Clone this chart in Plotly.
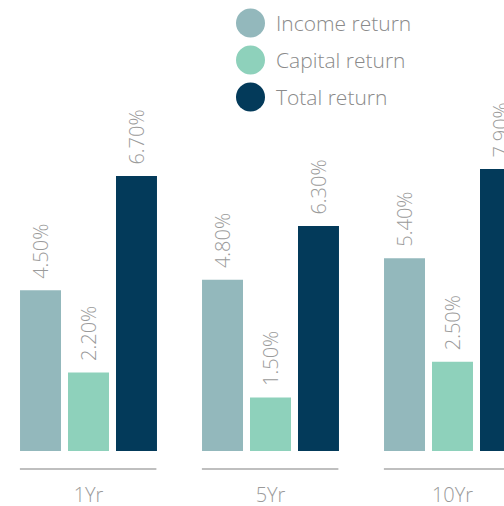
import plotly.graph_objects as go

categories = ["1Yr", "5Yr", "10Yr"]
series_names = ["Income return", "Capital return", "Total return"]
income = [4.5, 4.8, 5.4]
capital = [2.2, 1.5, 2.5]
total = [7.7, 6.3, 7.9]
income_labels = ["4.50%", "4.80%", "5.40%"]
capital_labels = ["2.20%", "1.50%", "2.50%"]
total_labels = ["6.70%", "6.30%", "7.90%"]
colors = ["#93b8bc", "#8ed1bb", "#033a5a"]

W, H = 504, 506
PH = 451  # plot area height
FONT = "Open Sans"
fig = go.Figure()
for name, vals, labs, col in zip(series_names, [income, capital, total],
                                 [income_labels, capital_labels, total_labels], colors):
    fig.add_trace(go.Bar(
        x=categories, y=vals, name=name, text=labs,
        texttemplate=" \u2009%{text}", textposition="outside", textangle=-90,
        cliponaxis=False, constraintext="none",
        textfont=dict(family=FONT, size=20, color="#9a9a9a", weight=300),
        marker=dict(color=col, line=dict(width=0)), showlegend=False,
    ))

shapes = []
for i, c in enumerate(categories):
    shapes.append(dict(type="line", xref="x", yref="paper",
                       x0=i - 0.377, x1=i + 0.373, y0=-18 / PH, y1=-18 / PH,
                       line=dict(color="#aaaaaa", width=1.5)))

annotations = []
for k, (name, col) in enumerate(zip(series_names, colors)):
    cy = 23 + 37 * k
    shapes.append(dict(type="circle", xref="paper", yref="paper",
                       x0=236 / W, x1=265 / W,
                       y0=1 - (cy + 14.5) / PH, y1=1 - (cy - 14.5) / PH,
                       fillcolor=col, line=dict(width=0)))
    annotations.append(dict(xref="paper", yref="paper", x=274 / W, y=1 - cy / PH,
                            xanchor="left", yanchor="middle", text=name, showarrow=False,
                            font=dict(family=FONT, size=21, color="#8a8a8a", weight=300)))

fig.update_layout(
    width=W, height=H,
    margin=dict(l=0, r=0, t=0, b=H - PH, autoexpand=False),
    paper_bgcolor="white", plot_bgcolor="white",
    barmode="group", bargap=0.209, bargroupgap=0.146,
    xaxis=dict(range=[-88.5 / 182, (504 - 88.5) / 182], showgrid=False, zeroline=False,
               showline=False, ticks="outside", ticklen=26, tickcolor="rgba(0,0,0,0)",
               automargin=False,
               tickfont=dict(family=FONT, size=20, color="#9a9a9a", weight=300)),
    yaxis=dict(range=[0, PH / 35.7], visible=False, automargin=False),
    shapes=shapes, annotations=annotations,
)
fig.write_html("out.html", config={"displayModeBar": False},
               post_script="document.body.style.margin='0';document.body.style.overflow='hidden';")
